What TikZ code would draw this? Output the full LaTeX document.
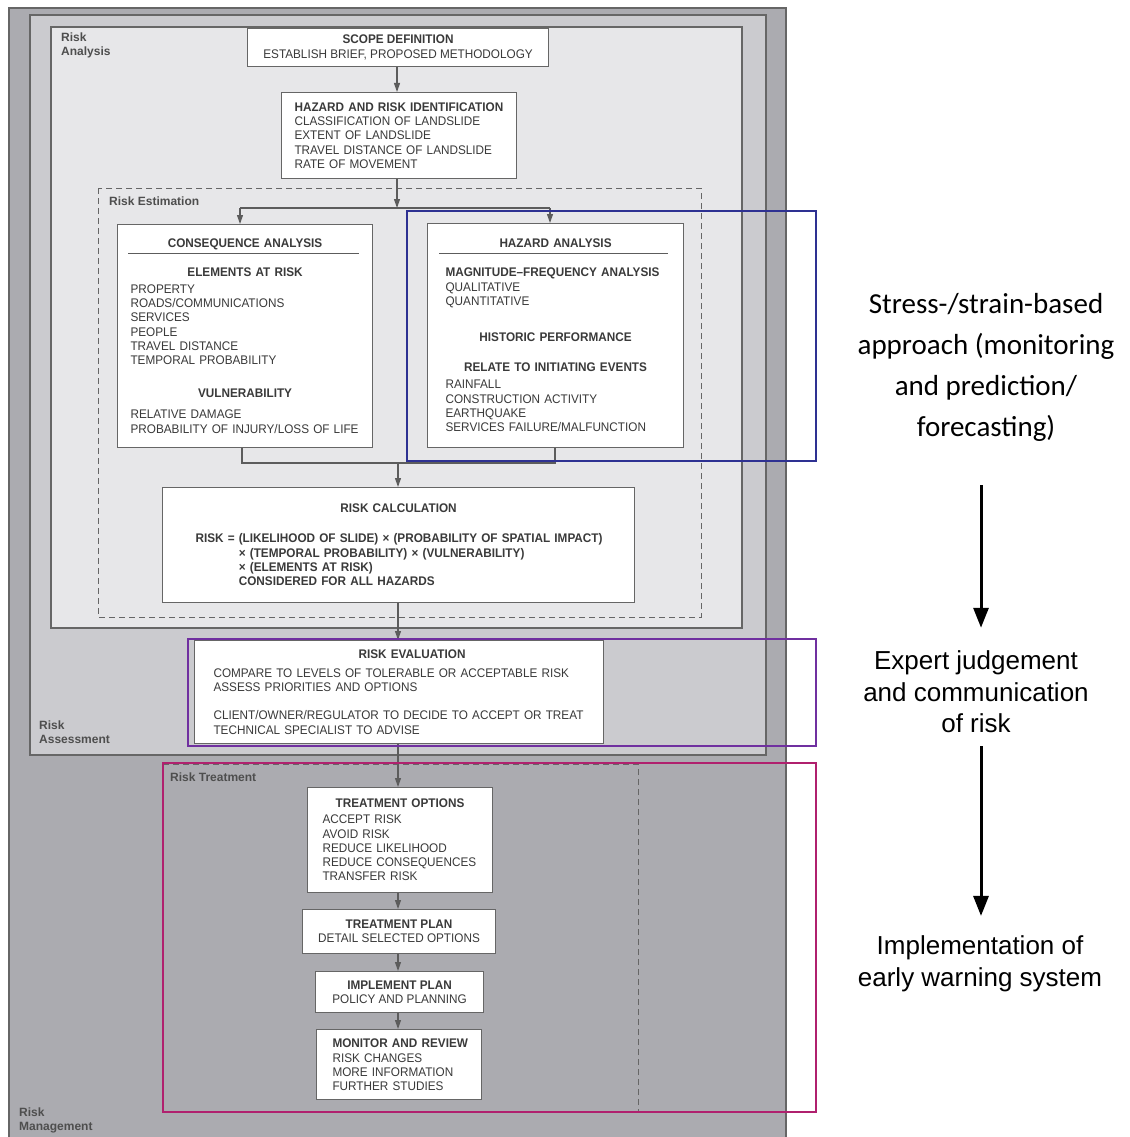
\documentclass[tikz,border=0pt]{standalone}
\usepackage{fontspec}
\usetikzlibrary{arrows.meta}
\newfontfamily\cf[FakeStretch=0.94]{Liberation Sans}
\newfontfamily\cfb[FakeStretch=0.94]{Liberation Sans Bold}
\newfontfamily\lf{Liberation Sans}
\newfontfamily\calib{Carlito}
\definecolor{txt}{HTML}{3A3A3A}
\definecolor{bord}{HTML}{666666}
\definecolor{mgmt}{HTML}{ABABB0}
\definecolor{assess}{HTML}{CBCBCF}
\definecolor{anal}{HTML}{E7E7E9}
\definecolor{cblue}{HTML}{2E3192}
\definecolor{cpurple}{HTML}{7030A0}
\definecolor{cmag}{HTML}{B0206E}
\newcommand\hd[1]{\mbox{\cfb #1}}
\newcommand\ch[1]{\leavevmode\hbox to\hsize{\hss\cfb #1\hss}}
\newcommand\bxfont{\cf\fontsize{12.5}{14.3}\selectfont\color{txt}\hyphenpenalty=10000\exhyphenpenalty=10000\parindent=0pt}
\begin{document}
\begin{tikzpicture}[x=1pt,y=-1pt,
  region/.style={draw=bord,line width=1.1pt},
  dashbox/.style={draw=bord,line width=1pt,dash pattern=on 6pt off 4pt},
  box/.style={draw=bord,fill=white,line width=1.1pt,font=\bxfont,inner ysep=0pt,anchor=north west},
  lbox/.style={box,align=left},
  cbox/.style={box,align=center,inner xsep=0pt},
  conn/.style={draw=bord!90!black,line width=1.1pt},
  arr/.style={conn,-{Triangle[length=9pt,width=6pt]}},
  lab/.style={font=\lf\bfseries\fontsize{12}{14}\selectfont,text=txt!90,align=left,inner sep=0pt,anchor=north west},
  hl/.style={line width=2pt},
  bigarr/.style={line width=3pt,-{Triangle[length=20pt,width=15pt]}}]
\useasboundingbox (0,0) rectangle (1129,1137);
\fill[white] (0,0) rectangle (1129,1137);
% nested regions
\filldraw[region,fill=mgmt] (9,8) rectangle (786,1160);
\filldraw[region,fill=assess] (30,15) rectangle (766,755);
\filldraw[region,fill=anal] (51,27) rectangle (742,628);
\draw[dashbox] (98,188) rectangle (701,617);
\draw[dashbox] (163,764) rectangle (638,1112);
% region labels
\node[lab] (lanal) at (61,32.5) {Risk\\Analysis};
\node[lab] (lest) at (109,196.5) {Risk Estimation};
\node[lab] (lass) at (39,720.5) {Risk\\Assessment};
\node[lab] (ltreat) at (170,772.5) {Risk Treatment};
\node[lab] (lmgmt) at (19,1107.5) {Risk\\Management};
% boxes
\node[cbox,minimum width=301pt,minimum height=38pt] (scope) at (247,28)
  {\hd{SCOPE DEFINITION}\\ESTABLISH BRIEF, PROPOSED METHODOLOGY};
\node[lbox,inner xsep=13pt,text width=209pt,minimum height=86pt] (hazid) at (281,92)
  {\hd{HAZARD AND RISK IDENTIFICATION}\\CLASSIFICATION OF LANDSLIDE\\EXTENT OF LANDSLIDE\\TRAVEL DISTANCE OF LANDSLIDE\\RATE OF MOVEMENT};
\node[lbox,inner xsep=13pt,text width=229pt,minimum height=223pt] (cons) at (117,224)
  {\ch{CONSEQUENCE ANALYSIS}\\[14.3pt]
   \ch{ELEMENTS AT RISK}\\[2.7pt]
   PROPERTY\\ROADS/COMMUNICATIONS\\SERVICES\\PEOPLE\\TRAVEL DISTANCE\\TEMPORAL PROBABILITY\\[18.7pt]
   \ch{VULNERABILITY}\\[6.7pt]
   RELATIVE DAMAGE\\\mbox{PROBABILITY OF INJURY/LOSS OF LIFE}};
\node[lbox,inner xsep=18pt,text width=220pt,minimum height=224pt] (haz) at (427,223)
  {\ch{HAZARD ANALYSIS}\\[14.3pt]
   \hd{MAGNITUDE–FREQUENCY ANALYSIS}\\[0.7pt]
   QUALITATIVE\\QUANTITATIVE\\[21.7pt]
   \ch{HISTORIC PERFORMANCE}\\[15.7pt]
   \ch{RELATE TO INITIATING EVENTS}\\[2.7pt]
   RAINFALL\\CONSTRUCTION ACTIVITY\\EARTHQUAKE\\\mbox{SERVICES FAILURE/MALFUNCTION}};
\node[lbox,inner xsep=33pt,text width=406pt,minimum height=115pt] (calc) at (162,487)
  {\ch{RISK CALCULATION}\\[15.7pt]
   \hd{RISK = (LIKELIHOOD OF SLIDE) × (PROBABILITY OF SPATIAL IMPACT)}\\
   \hd{\hphantom{RISK = }× (TEMPORAL PROBABILITY) × (VULNERABILITY)}\\
   \hd{\hphantom{RISK = }× (ELEMENTS AT RISK)}\\
   \hd{\hphantom{RISK = }CONSIDERED FOR ALL HAZARDS}};
\node[lbox,inner xsep=19pt,text width=371pt,minimum height=103pt] (eval) at (194,640)
  {\leavevmode\hbox to\hsize{\hskip26pt\hss\cfb RISK EVALUATION\hss}\\[4.7pt]
   \mbox{COMPARE TO LEVELS OF TOLERABLE OR ACCEPTABLE RISK}\\
   ASSESS PRIORITIES AND OPTIONS\\[13.7pt]
   \mbox{CLIENT/OWNER/REGULATOR TO DECIDE TO ACCEPT OR TREAT}\\
   TECHNICAL SPECIALIST TO ADVISE};
\node[lbox,inner xsep=15pt,text width=155pt,minimum height=105pt] (topt) at (307,787)
  {\ch{TREATMENT OPTIONS}\\[1.7pt]
   ACCEPT RISK\\AVOID RISK\\REDUCE LIKELIHOOD\\\mbox{REDUCE CONSEQUENCES}\\TRANSFER RISK};
\node[cbox,minimum width=193pt,minimum height=44pt] (tplan) at (302,909)
  {\hd{TREATMENT PLAN}\\DETAIL SELECTED OPTIONS};
\node[cbox,minimum width=168pt,minimum height=41pt] (impl) at (315,971)
  {\hd{IMPLEMENT PLAN}\\POLICY AND PLANNING};
\node[lbox,inner xsep=16pt,text width=133pt,minimum height=70pt] (mon) at (316,1029)
  {\hd{MONITOR AND REVIEW}\\[0.7pt]RISK CHANGES\\MORE INFORMATION\\FURTHER STUDIES};
% heading rules
\draw[conn,line width=1pt] ([xshift=11pt,yshift=-29pt]cons.north west) -- ([xshift=-14pt,yshift=-29pt]cons.north east);
\draw[conn,line width=1pt] ([xshift=12pt,yshift=-30pt]haz.north west) -- ([xshift=-16pt,yshift=-30pt]haz.north east);
% connectors
\coordinate (b0) at (397,208);
\coordinate (b1) at (240,208);
\coordinate (b2) at (550,208);
\coordinate (m1) at (242,463);
\coordinate (m2) at (555,463);
\coordinate (m3) at (398,463);
\draw[arr] (scope.south -| b0) -- (hazid.north -| b0);
\draw[arr] (hazid.south -| b0) -- (b0);
\draw[conn] (b1) -- (b2);
\draw[arr] (b1) -- (cons.north -| b1);
\draw[arr] (b2) -- (haz.north -| b2);
\draw[conn] (cons.south -| m1) -- (m1) -- (m2) -- (haz.south -| m2);
\draw[arr] (m3) -- (calc.north -| m3);
\draw[arr] (calc.south -| m3) -- (eval.north -| m3);
\draw[arr] (eval.south -| m3) -- (topt.north -| m3);
\draw[arr] (topt.south -| m3) -- (tplan.north -| m3);
\draw[arr] (tplan.south -| m3) -- (impl.north -| m3);
\draw[arr] (impl.south -| m3) -- (mon.north -| m3);
% highlight frames
\draw[hl,cblue] (407,211) rectangle (816,461);
\draw[hl,cpurple] (188,639) rectangle (816,746);
\draw[hl,cmag] (163,763) rectangle (816,1112);
% annotations
\node[font=\calib\fontsize{29}{41}\selectfont,align=center,inner sep=0pt] (ann1) at (986,367)
  {Stress-/strain-based\\approach (monitoring\\and prediction/\\forecasting)};
\node[font=\lf\fontsize{26}{31.5}\selectfont,align=center,inner sep=0pt] (ann2) at (976,692)
  {Expert judgement\\and communication\\of risk};
\node[font=\lf\fontsize{26}{31.5}\selectfont,align=center,inner sep=0pt] (ann3) at (980,964)
  {Implementation of\\early warning system};
\coordinate (axis) at (981,0);
\draw[bigarr,shorten <=44pt,shorten >=23pt] (ann1.south -| axis) -- (ann2.north -| axis);
\draw[bigarr,shorten <=13pt,shorten >=20pt] (ann2.south -| axis) -- (ann3.north -| axis);
\end{tikzpicture}
\end{document}
